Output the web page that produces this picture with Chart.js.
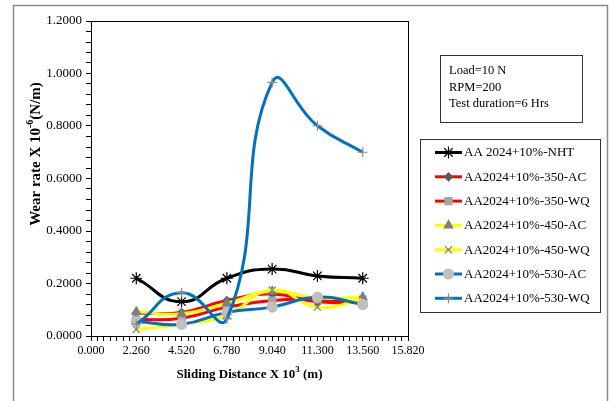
<!DOCTYPE html>
<html>
<head>
<meta charset="utf-8">
<script src="https://cdn.jsdelivr.net/npm/chart.js@4"></script>
<style>
  html, body { margin:0; padding:0; background:#fff; }
  #wrap { position:relative; width:610px; height:401px; }
</style>
</head>
<body>
<div id="wrap"><canvas id="wearChart" width="610" height="401"></canvas></div>
<script>
// --- DATA ---
const distances = [2.26, 4.52, 6.78, 9.04, 11.3, 13.56];
const xTicks = [0, 2.26, 4.52, 6.78, 9.04, 11.3, 13.56, 15.82];
const yTicks = [0, 0.2, 0.4, 0.6, 0.8, 1.0, 1.2];

const seriesNames = [
  'AA 2024+10%-NHT', 'AA2024+10%-350-AC', 'AA2024+10%-350-WQ',
  'AA2024+10%-450-AC', 'AA2024+10%-450-WQ', 'AA2024+10%-530-AC', 'AA2024+10%-530-WQ'
];
const nht    = [0.220, 0.131, 0.220, 0.255, 0.229, 0.220];
const ac350  = [0.088, 0.090, 0.135, 0.160, 0.130, 0.130];
const wq350  = [0.062, 0.068, 0.110, 0.135, 0.140, 0.125];
const ac450  = [0.092, 0.085, 0.125, 0.170, 0.145, 0.148];
const wq450  = [0.025, 0.045, 0.080, 0.175, 0.110, 0.140];
const ac530  = [0.055, 0.045, 0.090, 0.110, 0.148, 0.120];
const wq530  = [0.045, 0.165, 0.065, 0.966, 0.801, 0.700];

const infoLines = ['Load=10 N', 'RPM=200', 'Test duration=6 Hrs'];

// --- STYLES ---
const FONT = "'Liberation Serif', 'Times New Roman', serif";
const styles = [
  { line:'#000000', marker:'star',     mFill:'#000000', mBorder:'#000000', r:6 },
  { line:'#ff0000', marker:'rectRot',  mFill:'#595959', mBorder:'#595959', r:4 },
  { line:'#ff0000', marker:'rect',     mFill:'#a5a5a5', mBorder:'#a5a5a5', r:5 },
  { line:'#ffff00', marker:'triangle', mFill:'#7f7f7f', mBorder:'#7f7f7f', r:5 },
  { line:'#ffff00', marker:'crossRot', mFill:'#7f7f7f', mBorder:'#7f7f7f', r:5 },
  { line:'#0070c0', marker:'circle',   mFill:'#bfbfbf', mBorder:'#bfbfbf', r:5 },
  { line:'#0070c0', marker:'cross',    mFill:'#8c8c8c', mBorder:'#8c8c8c', r:5 }
];
const allSeries = [nht, ac350, wq350, ac450, wq450, ac530, wq530];

const datasets = allSeries.map((vals, i) => ({
  label: seriesNames[i],
  data: vals.map((v, k) => ({ x: distances[k], y: v })),
  borderColor: styles[i].line,
  borderWidth: 3,
  tension: 0.5,
  pointStyle: styles[i].marker,
  pointRadius: styles[i].r,
  pointBackgroundColor: styles[i].mFill,
  pointBorderColor: styles[i].mBorder,
  pointBorderWidth: 1.2,
  order: allSeries.length - i,   // later series on top, like the original
  fill: false
}));

// --- HELPERS ---
function withMinors(majors, parts) {
  const out = [];
  for (let i = 0; i < majors.length; i++) {
    out.push({ value: majors[i], major: true });
    if (i < majors.length - 1) {
      const step = (majors[i+1] - majors[i]) / parts;
      for (let k = 1; k < parts; k++) out.push({ value: majors[i] + step*k, major: false });
    }
  }
  return out;
}

function drawSuper(ctx, parts, cx, cy, size) {
  // parts: [text, isSuper]
  const big = 'bold ' + size + 'px ' + FONT, small = 'bold ' + Math.round(size*0.68) + 'px ' + FONT;
  let w = 0;
  parts.forEach(p => { ctx.font = p[1] ? small : big; w += ctx.measureText(p[0]).width; });
  let x = cx - w/2;
  parts.forEach(p => {
    ctx.font = p[1] ? small : big;
    ctx.fillText(p[0], x, p[1] ? cy - size*0.38 : cy);
    x += ctx.measureText(p[0]).width;
  });
}

// --- PLUGIN: frame, titles, info box, legend ---
const decor = {
  id: 'decor',
  beforeDraw(chart) {
    const ctx = chart.ctx;
    ctx.save();
    ctx.strokeStyle = '#8a8a8a';
    ctx.lineWidth = 1.5;
    ctx.strokeRect(13.5, 5.5, 594, 420);
    ctx.restore();
  },
  afterDraw(chart) {
    const ctx = chart.ctx, a = chart.chartArea;
    ctx.save();
    // plot frame
    ctx.strokeStyle = '#000'; ctx.lineWidth = 1;
    ctx.strokeRect(a.left + 0.5, a.top + 0.5, a.right - a.left, a.bottom - a.top);

    // axis titles
    ctx.fillStyle = '#000';
    ctx.textBaseline = 'middle';
    ctx.textAlign = 'left';
    drawSuper(ctx, [['Sliding Distance X 10', false], ['3', true], [' (m)', false]], (a.left + a.right)/2, 375, 13);
    ctx.save();
    ctx.translate(36, 154);
    ctx.rotate(-Math.PI/2);
    drawSuper(ctx, [['Wear rate X 10', false], ['-6', true], ['(N/m)', false]], 0, 0, 15);
    ctx.restore();

    // info box
    ctx.strokeStyle = '#333'; ctx.lineWidth = 1;
    ctx.strokeRect(440.5, 55.5, 142, 67);
    ctx.font = '12.5px ' + FONT;
    infoLines.forEach((t, i) => ctx.fillText(t, 449, 71 + i*16.3));

    // legend
    ctx.strokeStyle = '#333';
    ctx.strokeRect(420.5, 139.5, 180, 173);
    ctx.font = '13px ' + FONT;
    seriesNames.forEach((name, i) => {
      const y = 152.5 + i*24.3;
      ctx.strokeStyle = styles[i].line; ctx.lineWidth = 3;
      ctx.beginPath(); ctx.moveTo(435, y); ctx.lineTo(462, y); ctx.stroke();
      ctx.fillStyle = styles[i].mFill; ctx.strokeStyle = styles[i].mBorder; ctx.lineWidth = 1.2;
      Chart.helpers.drawPoint(ctx, { pointStyle: styles[i].marker, radius: styles[i].r, borderWidth: 1.2, rotation: 0 }, 448.5, y);
      ctx.fillStyle = '#000';
      ctx.fillText(name, 464, y + 0.5);
    });
    ctx.restore();
  }
};

// --- CHART ---
new Chart(document.getElementById('wearChart').getContext('2d'), {
  type: 'line',
  data: { datasets: datasets },
  plugins: [decor],
  options: {
    responsive: false,
    animation: false,
    layout: { padding: { top: 21, right: 202, left: 0, bottom: 0 } },
    plugins: { legend: { display: false }, tooltip: { enabled: false } },
    scales: {
      x: {
        type: 'linear', min: 0, max: 15.82,
        afterBuildTicks: s => { s.ticks = withMinors(xTicks, 7); },
        afterFit: s => { s.height = 65; },
        ticks: {
          autoSkip: false, maxRotation: 0, padding: 3,
          color: '#000', font: { family: FONT, size: 12 },
          callback: (v, i, t) => t[i].major ? Number(v).toFixed(3) : ''
        },
        grid: { drawOnChartArea: false, drawTicks: true, tickLength: 5, color: '#000' },
        border: { color: '#000' }
      },
      y: {
        type: 'linear', min: 0, max: 1.2,
        afterBuildTicks: s => { s.ticks = withMinors(yTicks, 5); },
        afterFit: s => { s.width = 91; },
        ticks: {
          autoSkip: false, padding: 4,
          color: '#000', font: { family: FONT, size: 13 },
          callback: (v, i, t) => t[i].major ? Number(v).toFixed(4) : ''
        },
        grid: { drawOnChartArea: false, drawTicks: true, tickLength: 5, color: '#000' },
        border: { color: '#000' }
      }
    }
  }
});
</script>
</body>
</html>
